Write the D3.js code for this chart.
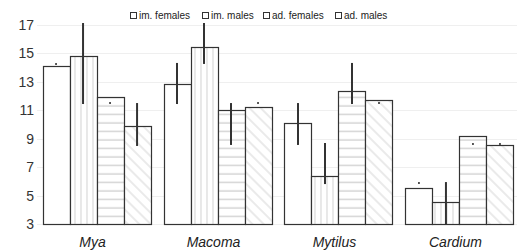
<!DOCTYPE html>
<html>
<head>
<meta charset="utf-8">
<script src="https://cdn.jsdelivr.net/npm/d3@7"></script>
<style>
  body { margin: 0; background: #fff; }
  svg { font-family: "Liberation Sans", Arial, sans-serif; }
</style>
</head>
<body>
<div id="chart"></div>
<script>
var species = ["Mya", "Macoma", "Mytilus", "Cardium"];
var groups = ["im. females", "im. males", "ad. females", "ad. males"];
var yTicks = [3, 5, 7, 9, 11, 13, 15, 17];

// mean per group, one array per series
var imFemales = [14.1, 12.85, 10.1, 5.5];
var imMales = [14.8, 15.45, 6.4, 4.55];
var adFemales = [11.9, 11.0, 12.35, 9.2];
var adMales = [9.9, 11.2, 11.7, 8.55];

// error bars (low, high); same value = only a dot
var lowImFemales = [14.26, 11.44, 8.56, 5.88];
var highImFemales = [14.26, 14.33, 11.51, 5.88];
var lowImMales = [11.44, 14.26, 5.81, 3.0];
var highImMales = [17.14, 17.14, 8.7, 5.95];
var lowAdFemales = [11.51, 8.56, 11.44, 8.63];
var highAdFemales = [11.51, 11.51, 14.33, 8.63];
var lowAdMales = [8.49, 11.51, 11.51, 8.63];
var highAdMales = [11.51, 11.51, 11.51, 8.63];

var series = [
  { name: groups[0], values: imFemales, low: lowImFemales, high: highImFemales, fill: "#fff" },
  { name: groups[1], values: imMales, low: lowImMales, high: highImMales, fill: "url(#vert)" },
  { name: groups[2], values: adFemales, low: lowAdFemales, high: highAdFemales, fill: "url(#horiz)" },
  { name: groups[3], values: adMales, low: lowAdMales, high: highAdMales, fill: "url(#diag)" }
];

var width = 517, height = 251;

var svg = d3.select("#chart").append("svg")
  .attr("width", width)
  .attr("height", height);

var defs = svg.append("defs");

var pv = defs.append("pattern").attr("id", "vert")
  .attr("patternUnits", "userSpaceOnUse").attr("width", 6).attr("height", 6);
pv.append("rect").attr("width", 6).attr("height", 6).attr("fill", "#fff");
pv.append("line").attr("x1", 3).attr("y1", 0).attr("x2", 3).attr("y2", 6)
  .attr("stroke", "#ddd").attr("stroke-width", 1.3);

var ph = defs.append("pattern").attr("id", "horiz")
  .attr("patternUnits", "userSpaceOnUse").attr("width", 27).attr("height", 8.5);
ph.append("rect").attr("width", 27).attr("height", 8.5).attr("fill", "#fff");
ph.append("line").attr("x1", 0).attr("y1", 4).attr("x2", 27).attr("y2", 4)
  .attr("stroke", "#d4d4d4").attr("stroke-width", 1.5);

var pd = defs.append("pattern").attr("id", "diag")
  .attr("patternUnits", "userSpaceOnUse").attr("width", 8).attr("height", 8)
  .attr("patternTransform", "rotate(45)");
pd.append("rect").attr("width", 8).attr("height", 8).attr("fill", "#fff");
pd.append("line").attr("x1", 0).attr("y1", 4).attr("x2", 8).attr("y2", 4)
  .attr("stroke", "#ddd").attr("stroke-width", 1.2);

var x0 = d3.scaleBand()
  .domain(species)
  .range([36, 520])
  .paddingInner(0.107)
  .paddingOuter(0.054);

var x1 = d3.scaleBand()
  .domain(groups)
  .range([0, x0.bandwidth()]);

var y = d3.scaleLinear()
  .domain([3, 17])
  .range([224, 25]);

// grid lines
svg.append("g")
  .selectAll("line")
  .data(yTicks)
  .enter().append("line")
  .attr("x1", 37)
  .attr("x2", width)
  .attr("y1", function(d){ return Math.round(y(d)) + 0.5; })
  .attr("y2", function(d){ return Math.round(y(d)) + 0.5; })
  .attr("stroke", "#efefef")
  .attr("stroke-width", 1);

// y tick labels
var yAxis = svg.append("g")
  .attr("transform", "translate(36,0)")
  .call(d3.axisLeft(y).tickValues(yTicks).tickSize(0).tickPadding(2));
yAxis.select(".domain").remove();
yAxis.selectAll("text")
  .attr("fill", "#333")
  .style("font-size", "14px")
  .style("font-family", "Liberation Sans, Arial, sans-serif");

// bars
var seriesG = svg.append("g").selectAll("g")
  .data(series)
  .enter().append("g");

seriesG.selectAll("rect")
  .data(function(s){ return s.values.map(function(v, i){ return { sp: species[i], v: v, s: s }; }); })
  .enter().append("rect")
  .attr("x", function(d){ return Math.round(x0(d.sp) + x1(d.s.name)) + 0.5; })
  .attr("y", function(d){ return Math.round(y(d.v)) + 0.5; })
  .attr("width", function(d){ return Math.round(x1.bandwidth()); })
  .attr("height", function(d){ return Math.round(y(3)) - Math.round(y(d.v)); })
  .attr("fill", function(d){ return d.s.fill; })
  .attr("stroke", "#333")
  .attr("stroke-width", 1.2);

// error bars / dots
seriesG.selectAll("line.err")
  .data(function(s){ return s.values.map(function(v, i){ return { sp: species[i], lo: s.low[i], hi: s.high[i], s: s }; }); })
  .enter().append("line")
  .attr("class", "err")
  .attr("x1", function(d){ return x0(d.sp) + x1(d.s.name) + x1.bandwidth() / 2; })
  .attr("x2", function(d){ return x0(d.sp) + x1(d.s.name) + x1.bandwidth() / 2; })
  .attr("y1", function(d){ return d.lo === d.hi ? y(d.lo) - 1 : y(d.lo); })
  .attr("y2", function(d){ return d.lo === d.hi ? y(d.hi) + 1 : y(d.hi); })
  .attr("stroke", "#333")
  .attr("stroke-width", function(d){ return d.lo === d.hi ? 1.6 : 2; });

// category labels
svg.append("g")
  .selectAll("text")
  .data(species)
  .enter().append("text")
  .attr("x", function(d){ return x0(d) + x0.bandwidth() / 2 - 4; })
  .attr("y", 247)
  .attr("text-anchor", "middle")
  .attr("fill", "#222")
  .style("font-size", "14px")
  .style("font-style", "italic")
  .text(function(d){ return d; });

// legend
var legendX = [130, 202, 263, 335];
var legend = svg.append("g").selectAll("g")
  .data(groups)
  .enter().append("g")
  .attr("transform", function(d, i){ return "translate(" + legendX[i] + ",12)"; });
legend.append("rect")
  .attr("x", 0.5).attr("y", 0.5)
  .attr("width", 6).attr("height", 6)
  .attr("fill", "#fff").attr("stroke", "#333").attr("stroke-width", 1);
legend.append("text")
  .attr("x", 9).attr("y", 7)
  .attr("fill", "#222")
  .style("font-size", "10px")
  .text(function(d){ return d; });
</script>
</body>
</html>
